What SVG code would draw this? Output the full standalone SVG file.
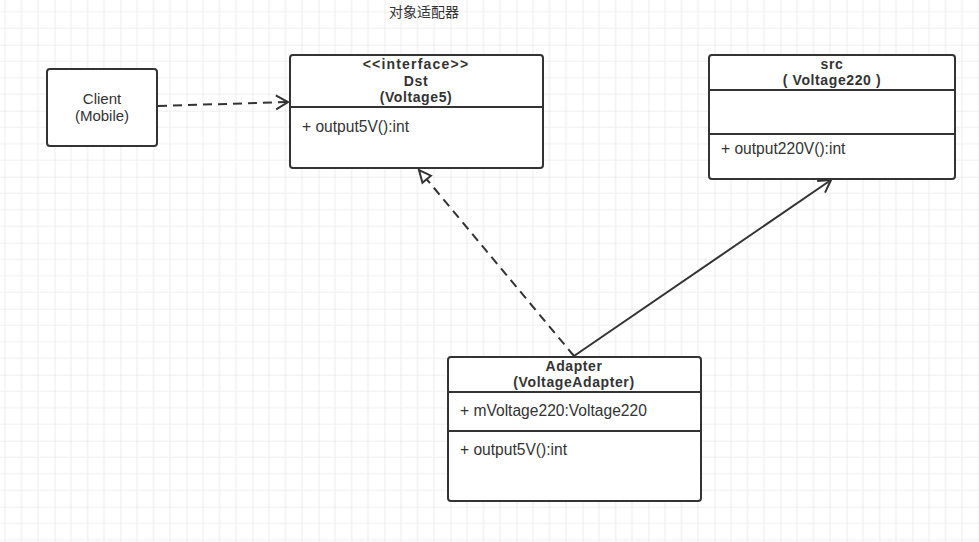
<svg xmlns="http://www.w3.org/2000/svg" width="979" height="542" viewBox="0 0 979 542">
<style>
.box{fill:#fff;stroke:#333;stroke-width:2}
.div{stroke:#333;stroke-width:2}
.t{font-family:"Liberation Sans","Noto Sans CJK SC",sans-serif;font-size:15px;fill:#333}
.m{font-size:15.6px}
.b{font-size:14px;font-weight:bold;text-anchor:middle;letter-spacing:0.6px}
.c{text-anchor:middle}
.ln{fill:none;stroke:#333;stroke-width:2}
.dash{stroke-dasharray:9 6}
</style>
<defs>
<pattern id="grid" patternUnits="userSpaceOnUse" x="-11.5" y="-21.3" width="66" height="66">
<path d="M16.5 0V66M33 0V66M49.5 0V66M0 16.5H66M0 33H66M0 49.5H66" stroke="#efefef" stroke-width="1.2" fill="none"/>
<path d="M0 0V66M0 0H66" stroke="#e0e0e0" stroke-width="1.2" fill="none"/>
</pattern>
<marker id="open" markerUnits="userSpaceOnUse" markerWidth="20" markerHeight="20" refX="14" refY="10" orient="auto">
<path d="M2 3L14 10L2 17" fill="none" stroke="#333" stroke-width="2"/>
</marker>
<marker id="tri" markerUnits="userSpaceOnUse" markerWidth="20" markerHeight="20" refX="15" refY="10" orient="auto">
<path d="M3 4.5L15 10L3 15.5Z" fill="#fff" stroke="#333" stroke-width="2"/>
</marker>
</defs>
<rect width="979" height="542" fill="#fff"/>
<rect width="979" height="542" fill="url(#grid)"/>
<text x="424" y="17" text-anchor="middle" style="font-family:'Noto Sans CJK SC',sans-serif;font-size:14px;fill:#333">对象适配器</text>

<g id="connectors">
<line class="ln dash" x1="158" y1="106" x2="288" y2="102" marker-end="url(#open)"/>
<line class="ln dash" x1="574" y1="356" x2="419" y2="170" marker-end="url(#tri)"/>
<line class="ln" x1="574" y1="356" x2="831" y2="180" marker-end="url(#open)"/>
</g>

<g id="client">
<rect class="box" x="47" y="69" width="110" height="77" rx="3"/>
<text class="t c" x="102" y="104">Client</text>
<text class="t c" x="102" y="121">(Mobile)</text>
</g>

<g id="dst">
<rect class="box" x="290" y="55" width="253" height="113" rx="3"/>
<line class="div" x1="290" y1="107" x2="543" y2="107"/>
<text class="t b" x="416" y="69" style="letter-spacing:1.2px">&lt;&lt;interface&gt;&gt;</text>
<text class="t b" x="416" y="86">Dst</text>
<text class="t b" x="416" y="102">(Voltage5)</text>
<text class="t m" x="302" y="132">+ output5V():int</text>
</g>

<g id="src">
<rect class="box" x="709" y="55" width="246" height="124" rx="3"/>
<line class="div" x1="709" y1="90" x2="955" y2="90"/>
<line class="div" x1="709" y1="134" x2="955" y2="134"/>
<text class="t b" x="832" y="69">src</text>
<text class="t b" x="832" y="85">( Voltage220 )</text>
<text class="t m" x="721" y="154">+ output220V():int</text>
</g>

<g id="adapter">
<rect class="box" x="448" y="357" width="253" height="144" rx="3"/>
<line class="div" x1="448" y1="392" x2="701" y2="392"/>
<line class="div" x1="448" y1="431" x2="701" y2="431"/>
<text class="t b" x="574" y="371">Adapter</text>
<text class="t b" x="574" y="387">(VoltageAdapter)</text>
<text class="t m" x="460" y="416">+ mVoltage220:Voltage220</text>
<text class="t m" x="460" y="455">+ output5V():int</text>
</g>
</svg>
